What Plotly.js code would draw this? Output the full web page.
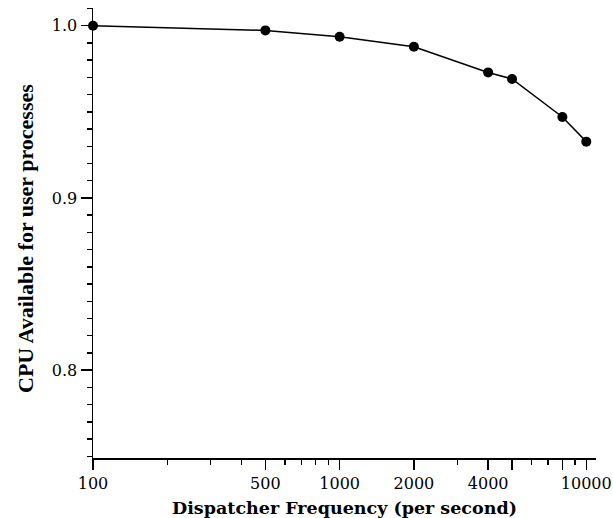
<!DOCTYPE html>
<html>
<head>
<meta charset="utf-8">
<script src="https://cdn.plot.ly/plotly-3.0.1.min.js"></script>
<style>html,body{margin:0;padding:0;background:#fff;}#chart{width:613px;height:518px;}</style>
</head>
<body>
<div id="chart"></div>
<script>
const frequency = [100, 500, 1000, 2000, 4000, 5000, 8000, 10000];
const cpuAvailable = [1.000, 0.9973, 0.9936, 0.9878, 0.9729, 0.9691, 0.9470, 0.9327];
const xMajorTicks = [100, 500, 1000, 2000, 4000, 5000, 8000, 10000];
const xMajorLabels = ["100", "500", "1000", "2000", "4000", "", "", "10000"];
const xMinorTicks = [200, 300, 400, 600, 700, 800, 900, 3000, 6000, 7000, 9000];
const yTicks = [0.8, 0.9, 1.0];
const yTickLabels = ["0.8", "0.9", "1.0"];
const xTitle = 'Dispatcher Frequency (per second)';
const yTitle = 'CPU Available for user processes';

const trace = {
  x: frequency,
  y: cpuAvailable,
  type: 'scatter',
  mode: 'lines+markers',
  line: {color: '#000', width: 1.5},
  marker: {color: '#000', size: 10, symbol: 'circle'},
  cliponaxis: false,
  hoverinfo: 'x+y'
};

const layout = {
  width: 613,
  height: 518,
  margin: {l: 93.3, r: 17.3, t: 8.3, b: 59.7},
  paper_bgcolor: '#fff',
  plot_bgcolor: '#fff',
  showlegend: false,
  xaxis: {
    type: 'log',
    range: [2, 4.0394],
    showgrid: false,
    zeroline: false,
    showline: true,
    linecolor: '#000',
    linewidth: 1.5,
    ticks: 'outside',
    ticklen: 10,
    tickwidth: 1.5,
    tickcolor: '#000',
    tickmode: 'array',
    tickvals: xMajorTicks,
    ticktext: xMajorLabels,
    tickfont: {family: 'DejaVu Serif', size: 16, color: '#000'},
    minor: {tickmode: 'array', tickvals: xMinorTicks, ticks: 'outside', ticklen: 5, tickwidth: 1.5, tickcolor: '#000', showgrid: false},
    title: {text: '<b>' + xTitle + '</b>', font: {family: 'DejaVu Serif', size: 17.5, color: '#000'}, standoff: 12}
  },
  yaxis: {
    range: [0.749, 1.0103],
    showgrid: false,
    zeroline: false,
    showline: true,
    linecolor: '#000',
    linewidth: 1.5,
    ticks: 'outside',
    ticklen: 11,
    tickwidth: 1.5,
    tickcolor: '#000',
    tickmode: 'array',
    tickvals: yTicks,
    ticktext: yTickLabels,
    tickfont: {family: 'DejaVu Serif', size: 16, color: '#000'},
    minor: {dtick: 0.01, ticks: 'outside', ticklen: 5, tickwidth: 1.5, tickcolor: '#000', showgrid: false}
  },
  annotations: [{
    text: '<b>' + yTitle + '</b>',
    xref: 'paper', yref: 'paper',
    x: 0, y: 0.5,
    xanchor: 'center', yanchor: 'middle',
    xshift: -68, yshift: -6,
    textangle: -90,
    showarrow: false,
    font: {family: 'Liberation Serif', size: 22, color: '#000'}
  }]
};

Plotly.newPlot('chart', [trace], layout, {displayModeBar: false, staticPlot: true});
</script>
</body>
</html>
